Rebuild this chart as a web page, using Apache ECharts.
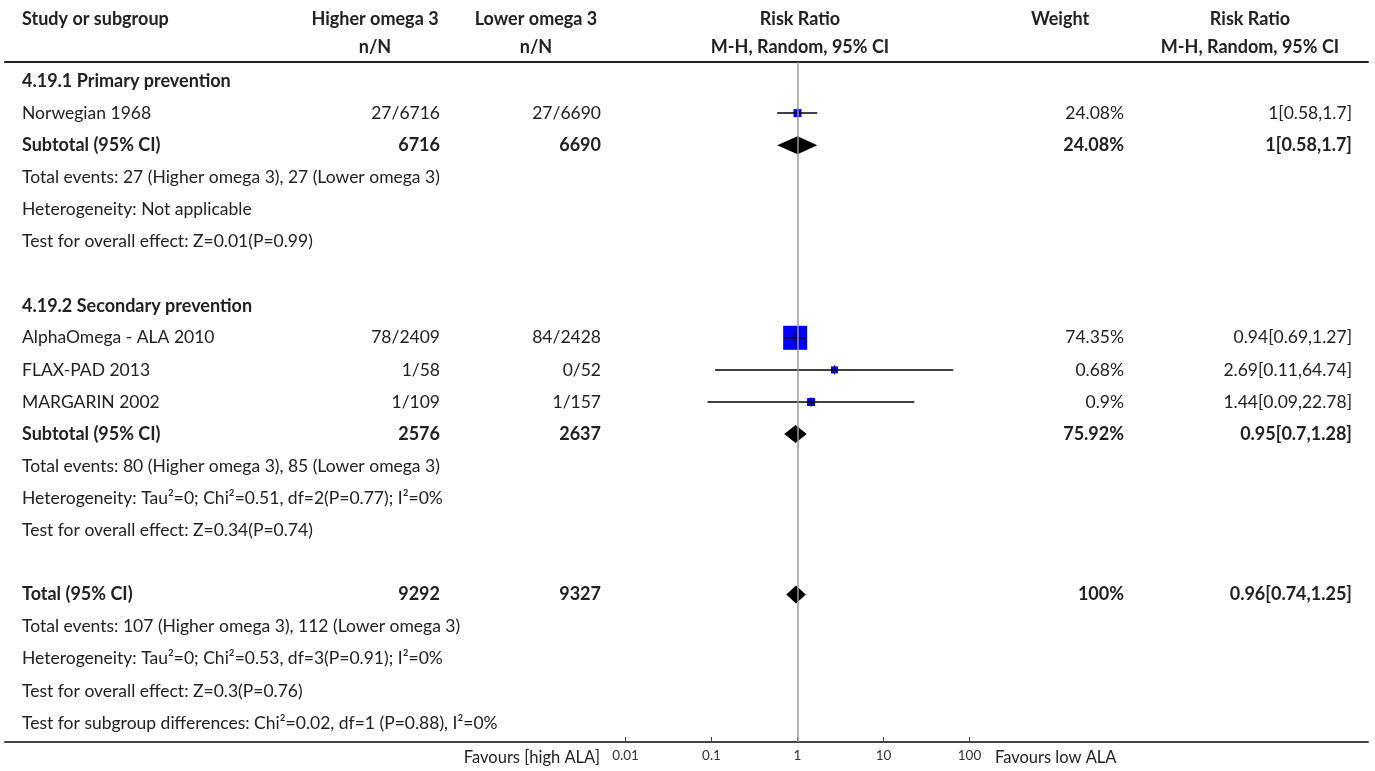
<!DOCTYPE html>
<html><head><meta charset="utf-8">
<script src="https://cdn.jsdelivr.net/npm/echarts@6/dist/echarts.min.js"></script>
<style>html,body{margin:0;padding:0;background:#fff}#c{width:1375px;height:771px}</style>
</head><body><div id="c"></div><script>
// ---------------- DATA ----------------
const headerTop = ["Study or subgroup", "Higher omega 3", "Lower omega 3", "Risk Ratio", "Weight", "Risk Ratio"];
const headerSub = ["", "n/N", "n/N", "M-H, Random, 95% CI", "", "M-H, Random, 95% CI"];
const rowText = [
  "4.19.1 Primary prevention",
  "Norwegian 1968",
  "Subtotal (95% CI)",
  "Total events: 27 (Higher omega 3), 27 (Lower omega 3)",
  "Heterogeneity: Not applicable",
  "Test for overall effect: Z=0.01(P=0.99)",
  "",
  "4.19.2 Secondary prevention",
  "AlphaOmega - ALA 2010",
  "FLAX-PAD 2013",
  "MARGARIN 2002",
  "Subtotal (95% CI)",
  "Total events: 80 (Higher omega 3), 85 (Lower omega 3)",
  "Heterogeneity: Tau²=0; Chi²=0.51, df=2(P=0.77); I²=0%",
  "Test for overall effect: Z=0.34(P=0.74)",
  "",
  "Total (95% CI)",
  "Total events: 107 (Higher omega 3), 112 (Lower omega 3)",
  "Heterogeneity: Tau²=0; Chi²=0.53, df=3(P=0.91); I²=0%",
  "Test for overall effect: Z=0.3(P=0.76)",
  "Test for subgroup differences: Chi²=0.02, df=1 (P=0.88), I²=0%"
];
const boldRows = [0, 2, 7, 11, 16];
const studyRows = [1, 8, 9, 10];
const studyHigher = ["27/6716", "78/2409", "1/58", "1/109"];
const studyLower = ["27/6690", "84/2428", "0/52", "1/157"];
const studyRR = [1, 0.94, 2.69, 1.44];
const studyLo = [0.58, 0.69, 0.11, 0.09];
const studyHi = [1.7, 1.27, 64.74, 22.78];
const studyWeight = ["24.08%", "74.35%", "0.68%", "0.9%"];
const sumRows = [2, 11, 16];
const sumHigher = ["6716", "2576", "9292"];
const sumLower = ["6690", "2637", "9327"];
const sumRR = [1, 0.95, 0.96];
const sumLo = [0.58, 0.7, 0.74];
const sumHi = [1.7, 1.28, 1.25];
const sumWeight = ["24.08%", "75.92%", "100%"];
const axisTicks = [0.01, 0.1, 1, 10, 100];
const favoursLeft = "Favours [high ALA]";
const favoursRight = "Favours low ALA";

// ---------------- LAYOUT / STYLE ----------------
const FONT = "Lato, 'Noto Sans', sans-serif";
const FS = 17.5, FSB = 18, FS_FAV = 16.5;
const TXT = "#222";
const ROW0 = 81, ROWH = 32.1;
const yr = (top, h) => [(top - ROW0) / ROWH, (top + h - ROW0) / ROWH];
const HDR1 = -1.93, HDR2 = -1.06, FAV = 21.08;
const COL = { study: 22, higherC: 375, lowerC: 536, rrC: 800, weightC: 1060, ciC: 1250,
              higherR: 440, lowerR: 601, weightR: 1124, ciR: 1352, favL: 600, favR: 995 };
const BOX_PX = [8, 24, 7, 8];
const DIAMOND_HALF_H = 9;
const TICK_HALF = 4.5;

// ---------------- TEXT ITEMS ----------------
const texts = [];
const addT = (x, row, text, align, bold, size) => texts.push({ x, row, text, align, bold: !!bold, size: size || (bold ? FSB : FS) });
const hdrX = [COL.study, COL.higherC, COL.lowerC, COL.rrC, COL.weightC, COL.ciC];
const hdrA = ["left", "center", "center", "center", "center", "center"];
headerTop.forEach((t, i) => addT(hdrX[i], HDR1, t, hdrA[i], true));
headerSub.forEach((t, i) => { if (t) addT(hdrX[i], HDR2, t, hdrA[i], true); });
rowText.forEach((t, r) => { if (t) addT(COL.study, r, t, "left", boldRows.includes(r)); });
const fmtCI = (m, l, h) => `${m}[${l},${h}]`;
studyRows.forEach((r, i) => {
  addT(COL.higherR, r, studyHigher[i], "right");
  addT(COL.lowerR, r, studyLower[i], "right");
  addT(COL.weightR, r, studyWeight[i], "right");
  addT(COL.ciR, r, fmtCI(studyRR[i], studyLo[i], studyHi[i]), "right");
});
sumRows.forEach((r, i) => {
  addT(COL.higherR, r, sumHigher[i], "right", true);
  addT(COL.lowerR, r, sumLower[i], "right", true);
  addT(COL.weightR, r, sumWeight[i], "right", true);
  addT(COL.ciR, r, fmtCI(sumRR[i], sumLo[i], sumHi[i]), "right", true);
});
addT(COL.favL, FAV, favoursLeft, "right", false, FS_FAV);
addT(COL.favR, FAV, favoursRight, "left", false, FS_FAV);

const chart = echarts.init(document.getElementById("c"), null, { renderer: "canvas" });
const tRange = yr(0, 771), fRange = yr(62, 680);
const lineAxis = (grid, color) => ({ gridIndex: grid, type: "value", min: 0, max: 1, position: "bottom",
  axisLine: { show: true, onZero: false, lineStyle: { color, width: 2 } },
  axisTick: { show: false }, axisLabel: { show: false }, splitLine: { show: false } });

const option = {
  animation: false,
  backgroundColor: "#fff",
  grid: [
    { left: 0, top: 0, width: 1375, height: 771 },
    { left: 5, top: 0, width: 1363, height: 62 },
    { left: 5, top: 62, width: 1363, height: 680 },
    { left: 625.5, top: 62, width: 344, height: 680 }
  ],
  xAxis: [
    { gridIndex: 0, type: "value", min: 0, max: 1375, show: false },
    lineAxis(1, "#222"),
    lineAxis(2, "#444"),
    { gridIndex: 3, type: "log", logBase: 10, min: axisTicks[0], max: axisTicks[axisTicks.length - 1], position: "bottom",
      axisLine: { show: false, onZero: false },
      axisTick: { show: true, inside: true, length: 5, customValues: axisTicks, lineStyle: { color: "#444", width: 1 } },
      axisLabel: { show: true, margin: 7, fontSize: 13.5, color: "#333", fontFamily: FONT, customValues: axisTicks,
                   formatter: v => String(+(+v).toPrecision(3)) },
      splitLine: { show: false } }
  ],
  yAxis: [
    { gridIndex: 0, type: "value", inverse: true, min: tRange[0], max: tRange[1], show: false },
    { gridIndex: 1, type: "value", min: 0, max: 1, show: false },
    { gridIndex: 2, type: "value", min: 0, max: 1, show: false },
    { gridIndex: 3, type: "value", inverse: true, min: fRange[0], max: fRange[1], show: false }
  ],
  series: [
    {
      type: "custom", xAxisIndex: 0, yAxisIndex: 0, silent: true,
      data: texts.map(t => [t.x, t.row]),
      renderItem: (params, api) => {
        const t = texts[params.dataIndex];
        const p = api.coord([t.x, t.row]);
        return { type: "text", x: p[0], y: p[1],
          style: { text: t.text, fill: TXT, textAlign: t.align, textVerticalAlign: "middle",
                   font: `${t.bold ? "bold " : ""}${t.size}px ${FONT}` } };
      }
    },
    {
      type: "custom", xAxisIndex: 3, yAxisIndex: 3, silent: true, clip: false,
      data: studyRows.map((r, i) => [studyRR[i], r, studyLo[i], studyHi[i]]),
      renderItem: (params, api) => {
        const i = params.dataIndex;
        const r = api.value(1);
        const c = api.coord([api.value(0), r]);
        const a = api.coord([api.value(2), r]);
        const b = api.coord([api.value(3), r]);
        const s = BOX_PX[i];
        return { type: "group", children: [
          { type: "rect", shape: { x: c[0] - s / 2, y: c[1] - s / 2, width: s, height: s }, style: { fill: "#0000ff" } },
          { type: "line", shape: { x1: a[0], y1: a[1], x2: b[0], y2: b[1] }, style: { stroke: "#000", lineWidth: 1.5 } },
          { type: "line", shape: { x1: c[0], y1: c[1] - TICK_HALF, x2: c[0], y2: c[1] + TICK_HALF }, style: { stroke: "#000", lineWidth: 1.2 } }
        ] };
      },
      markLine: { silent: true, symbol: "none", label: { show: false },
        lineStyle: { color: "#999", width: 1.5, type: "solid" }, data: [{ xAxis: 1 }] },
      z: 3
    },
    {
      type: "custom", xAxisIndex: 3, yAxisIndex: 3, silent: true, clip: false,
      data: sumRows.map((r, i) => [sumRR[i], r, sumLo[i], sumHi[i]]),
      renderItem: (params, api) => {
        const r = api.value(1);
        const c = api.coord([api.value(0), r]);
        const a = api.coord([api.value(2), r]);
        const b = api.coord([api.value(3), r]);
        return { type: "polygon",
          shape: { points: [[a[0], c[1]], [c[0], c[1] - DIAMOND_HALF_H], [b[0], c[1]], [c[0], c[1] + DIAMOND_HALF_H]] },
          style: { fill: "#000" } };
      },
      z: 4
    }
  ]
};
chart.setOption(option);
</script></body></html>
